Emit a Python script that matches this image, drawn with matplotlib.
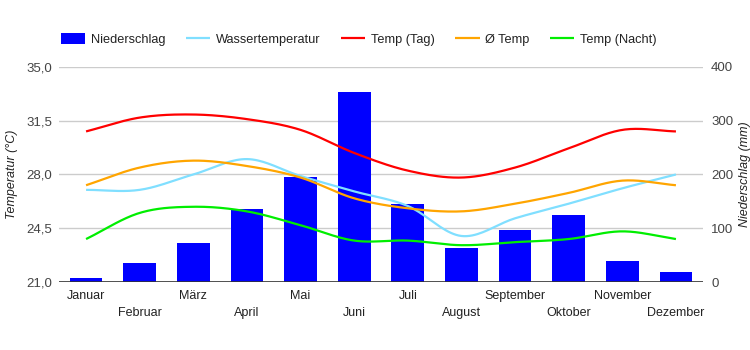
import numpy as np
import matplotlib.pyplot as plt
from matplotlib.ticker import FuncFormatter

plt.rcParams['font.family'] = ['Liberation Sans', 'DejaVu Sans']

monate = ["Januar", "Februar", "März", "April", "Mai", "Juni", "Juli",
          "August", "September", "Oktober", "November", "Dezember"]
niederschlag = [7, 35, 73, 136, 195, 353, 145, 63, 97, 125, 39, 19]
wasser = [27.0, 27.0, 28.0, 29.0, 27.9, 26.9, 25.95, 24.0, 25.15, 26.1, 27.1, 28.0]
temp_tag = [30.8, 31.7, 31.9, 31.6, 30.9, 29.4, 28.25, 27.8, 28.45, 29.7, 30.9, 30.8]
temp_mittel = [27.3, 28.45, 28.9, 28.55, 27.8, 26.45, 25.8, 25.6, 26.1, 26.8, 27.6, 27.3]
temp_nacht = [23.8, 25.5, 25.9, 25.6, 24.7, 23.7, 23.7, 23.4, 23.6, 23.8, 24.3, 23.8]


def glatt(x, y, n=20):
    # catmull-rom, nur fuer die Darstellung
    x = np.asarray(x, float)
    y = np.asarray(y, float)
    px = np.concatenate([[2 * x[0] - x[1]], x, [2 * x[-1] - x[-2]]])
    py = np.concatenate([[2 * y[0] - y[1]], y, [2 * y[-1] - y[-2]]])
    xs, ys = [], []
    t = np.linspace(0, 1, n, endpoint=False)
    for i in range(1, len(px) - 2):
        for p, out in ((px, xs), (py, ys)):
            p0, p1, p2, p3 = p[i - 1], p[i], p[i + 1], p[i + 2]
            out.extend(0.5 * (2 * p1 + (-p0 + p2) * t
                              + (2 * p0 - 5 * p1 + 4 * p2 - p3) * t ** 2
                              + (-p0 + 3 * p1 - 3 * p2 + p3) * t ** 3))
    xs.append(x[-1])
    ys.append(y[-1])
    return np.array(xs), np.array(ys)


txt = '#222222'
fig = plt.figure(figsize=(7.5, 3.5), dpi=100)
ax = fig.add_axes([0.079, 0.194, 0.858, 0.615])
x = np.arange(12)

bars = ax.bar(x, niederschlag, width=0.61, color='#0000ff', zorder=2, label='Niederschlag')
ax.set_ylim(0, 400)
ax.set_yticks([0, 100, 200, 300, 400])
ax.grid(axis='y', color='#cccccc', linewidth=1, zorder=0)
ax.set_xlim(-0.5, 11.5)

ax2 = ax.twinx()
# twinx schiebt die Achsen um, also danach nochmal setzen
ax.yaxis.tick_right()
ax.yaxis.set_label_position('right')
ax2.yaxis.tick_left()
ax2.yaxis.set_label_position('left')
ax.set_ylabel('Niederschlag (mm)', fontstyle='italic', fontsize=9, color=txt, labelpad=4)
ax2.set_ylim(21, 35)
ax2.set_yticks([21, 24.5, 28, 31.5, 35])
ax2.yaxis.set_major_formatter(FuncFormatter(lambda v, p: f"{v:.1f}".replace('.', ',')))
ax2.set_ylabel('Temperatur (°C)', fontstyle='italic', fontsize=9, color=txt, labelpad=6)

serien = [(wasser, '#80dfff', 'Wassertemperatur'),
          (temp_tag, '#ff0000', 'Temp (Tag)'),
          (temp_mittel, '#ffa500', 'Ø Temp'),
          (temp_nacht, '#00ee00', 'Temp (Nacht)')]
linien = []
for werte, farbe, name in serien:
    sx, sy = glatt(x, werte)
    l, = ax2.plot(sx, sy, color=farbe, linewidth=1.6, label=name, solid_capstyle='butt')
    linien.append(l)

for a in (ax, ax2):
    for s in a.spines.values():
        s.set_visible(False)
    a.tick_params(length=0, labelsize=9.5, colors='#444444')
ax.axhline(0, color='#333333', linewidth=1.2, zorder=3)
ax.tick_params(axis='y', pad=6)
ax2.tick_params(axis='y', pad=5)

ax.set_xticks(x)
ax.set_xticklabels(monate)
for i, lab in enumerate(ax.get_xticklabels()):
    lab.set_y(-0.015 if i % 2 == 0 else -0.095)
ax.tick_params(axis='x', labelsize=9, colors=txt)

fig.legend([bars] + linien, ['Niederschlag'] + [s[2] for s in serien],
           loc='center left', bbox_to_anchor=(0.066, 0.888), ncol=5, frameon=False,
           fontsize=9.2, handlelength=1.9, handleheight=1.0, columnspacing=1.6,
           handletextpad=0.45, labelcolor=txt)

fig.savefig('out.png', dpi=100)
